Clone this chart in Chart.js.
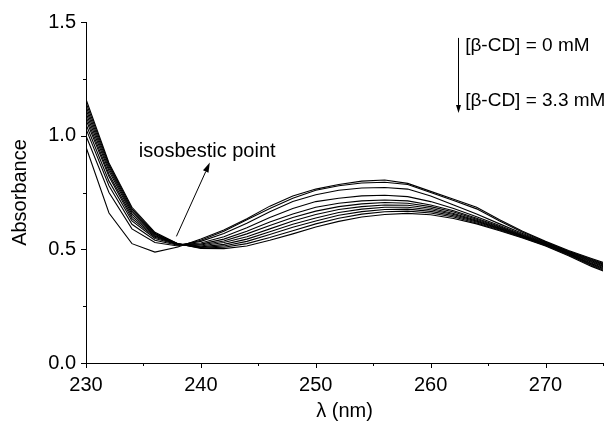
<!DOCTYPE html>
<html>
<head>
<meta charset="utf-8">
<script src="https://cdn.jsdelivr.net/npm/chart.js@4.4.1/dist/chart.umd.min.js"></script>
<style>
  html, body { margin: 0; padding: 0; background: #fff; }
  #wrap { width: 613px; height: 427px; position: relative; }
</style>
</head>
<body>
<div id="wrap"><canvas id="c" width="613" height="427"></canvas></div>
<script>
// Wavelengths (nm)
const wavelengths = [230,232,234,236,238,240,242,244,246,248,250,252,254,256,258,260,262,264,266,268,270,272,274,276];

// Absorbance spectra, [β-CD] = 0 mM ... 3.3 mM
const curve01 = [0.95,0.66,0.525,0.488,0.51,0.545,0.585,0.635,0.69,0.735,0.765,0.785,0.80,0.805,0.79,0.755,0.72,0.685,0.63,0.58,0.535,0.495,0.46,0.425];
const curve02 = [1.00,0.75,0.59,0.53,0.515,0.54,0.58,0.63,0.68,0.725,0.76,0.78,0.792,0.795,0.785,0.75,0.715,0.678,0.625,0.575,0.532,0.492,0.456,0.421];
const curve03 = [1.03,0.78,0.61,0.54,0.518,0.535,0.57,0.615,0.665,0.71,0.74,0.76,0.77,0.772,0.765,0.735,0.695,0.655,0.612,0.57,0.53,0.49,0.453,0.417];
const curve04 = [1.05,0.80,0.625,0.548,0.52,0.528,0.555,0.595,0.64,0.68,0.71,0.725,0.735,0.738,0.732,0.71,0.68,0.643,0.605,0.565,0.528,0.488,0.45,0.413];
const curve05 = [1.07,0.82,0.635,0.553,0.521,0.523,0.545,0.58,0.62,0.655,0.685,0.703,0.713,0.717,0.713,0.695,0.67,0.637,0.60,0.562,0.526,0.486,0.446,0.409];
const curve06 = [1.085,0.83,0.645,0.557,0.522,0.519,0.537,0.568,0.605,0.64,0.668,0.688,0.70,0.706,0.703,0.688,0.664,0.632,0.597,0.56,0.524,0.484,0.443,0.405];
const curve07 = [1.10,0.845,0.655,0.561,0.523,0.515,0.53,0.555,0.59,0.625,0.653,0.675,0.688,0.695,0.694,0.681,0.658,0.628,0.594,0.558,0.522,0.482,0.439,0.401];
const curve08 = [1.115,0.855,0.663,0.565,0.523,0.511,0.522,0.545,0.577,0.61,0.638,0.662,0.677,0.685,0.685,0.674,0.653,0.624,0.591,0.556,0.521,0.48,0.436,0.397];
const curve09 = [1.13,0.865,0.67,0.568,0.524,0.508,0.515,0.535,0.565,0.597,0.625,0.65,0.666,0.675,0.677,0.667,0.648,0.62,0.588,0.554,0.519,0.478,0.432,0.393];
const curve10 = [1.145,0.873,0.678,0.571,0.524,0.506,0.509,0.525,0.552,0.582,0.612,0.637,0.655,0.665,0.668,0.66,0.642,0.616,0.585,0.552,0.517,0.475,0.429,0.389];
const curve11 = [1.16,0.88,0.685,0.575,0.525,0.504,0.503,0.515,0.54,0.568,0.598,0.623,0.642,0.653,0.658,0.652,0.636,0.612,0.582,0.55,0.515,0.472,0.425,0.385];

const allCurves = [curve01,curve02,curve03,curve04,curve05,curve06,curve07,curve08,curve09,curve10,curve11];

// Axis ranges / tick labels
const xMin = 230, xMax = 275, xStep = 5, xLabelEvery = 10;
const yMin = 0, yMax = 1.5, yStep = 0.25, yLabelEvery = 0.5;

// Annotation texts and anchor positions (data units)
const isoText = "isosbestic point";
const isoTextPos = [234.6, 0.905];
const isoArrow = [[237.87, 0.557], [240.78, 0.882]];
const legendTop = "[β-CD] = 0 mM";
const legendBottom = "[β-CD] = 3.3 mM";
const legendArrow = [[262.4, 1.43], [262.4, 1.10]];
const legendTopPos = [263.0, 1.395];
const legendBottomPos = [263.0, 1.155];

const FONT = "'Liberation Sans', Arial, sans-serif";

const datasets = allCurves.map(arr => ({
  data: arr.map((v, i) => ({ x: wavelengths[i], y: v })),
  borderColor: '#000',
  borderWidth: 1.1,
  pointRadius: 0,
  tension: 0,
  fill: false
}));

function arrow(ctx, x1, y1, x2, y2, headLen, headHalf) {
  const ang = Math.atan2(y2 - y1, x2 - x1);
  const bx = x2 - headLen * Math.cos(ang), by = y2 - headLen * Math.sin(ang);
  ctx.beginPath();
  ctx.moveTo(x1, y1);
  ctx.lineTo(bx, by);
  ctx.stroke();
  ctx.beginPath();
  ctx.moveTo(x2, y2);
  ctx.lineTo(bx + headHalf * Math.sin(ang), by - headHalf * Math.cos(ang));
  ctx.lineTo(bx - headHalf * Math.sin(ang), by + headHalf * Math.cos(ang));
  ctx.closePath();
  ctx.fill();
}

const decor = {
  id: 'decor',
  afterDraw(chart) {
    const ctx = chart.ctx;
    const xs = chart.scales.x, ys = chart.scales.y;
    const ca = chart.chartArea;
    ctx.save();
    ctx.strokeStyle = '#000';
    ctx.fillStyle = '#000';
    ctx.lineWidth = 1;
    // ticks
    xs.ticks.forEach(t => {
      const px = Math.round(xs.getPixelForValue(t.value)) + 0.5;
      const len = (Math.abs(t.value % xLabelEvery) < 1e-6) ? 5 : 3;
      ctx.beginPath(); ctx.moveTo(px, ca.bottom); ctx.lineTo(px, ca.bottom + len); ctx.stroke();
    });
    ys.ticks.forEach(t => {
      const py = Math.round(ys.getPixelForValue(t.value)) + 0.5;
      const r = t.value / yLabelEvery;
      const len = (Math.abs(r - Math.round(r)) < 1e-6) ? 5 : 3;
      ctx.beginPath(); ctx.moveTo(ca.left, py); ctx.lineTo(ca.left - len, py); ctx.stroke();
    });
    // isosbestic annotation
    ctx.font = '20px ' + FONT;
    ctx.textBaseline = 'alphabetic';
    ctx.textAlign = 'left';
    ctx.fillText(isoText, xs.getPixelForValue(isoTextPos[0]), ys.getPixelForValue(isoTextPos[1]));
    arrow(ctx, xs.getPixelForValue(isoArrow[0][0]), ys.getPixelForValue(isoArrow[0][1]),
               xs.getPixelForValue(isoArrow[1][0]), ys.getPixelForValue(isoArrow[1][1]), 10, 3);
    // legend arrow and texts
    ctx.font = '19px ' + FONT;
    ctx.textBaseline = 'middle';
    ctx.fillText(legendTop, xs.getPixelForValue(legendTopPos[0]), ys.getPixelForValue(legendTopPos[1]));
    ctx.fillText(legendBottom, xs.getPixelForValue(legendBottomPos[0]), ys.getPixelForValue(legendBottomPos[1]));
    const lx = Math.round(xs.getPixelForValue(legendArrow[0][0])) + 0.5;
    arrow(ctx, lx, ys.getPixelForValue(legendArrow[0][1]), lx, ys.getPixelForValue(legendArrow[1][1]), 8, 2.5);
    ctx.restore();
  }
};

new Chart(document.getElementById('c'), {
  type: 'line',
  data: { datasets },
  plugins: [decor],
  options: {
    responsive: false,
    animation: false,
    events: [],
    layout: { padding: { top: 21, right: 1, left: 0, bottom: 0 } },
    plugins: { legend: { display: false }, tooltip: { enabled: false } },
    scales: {
      x: {
        type: 'linear',
        min: xMin, max: xMax,
        afterFit(s) { s.height = 64; },
        border: { display: true, color: '#000', width: 1 },
        grid: { drawOnChartArea: false, drawTicks: false },
        ticks: {
          stepSize: xStep,
          autoSkip: false,
          maxRotation: 0,
          padding: 10,
          color: '#000',
          font: { family: FONT, size: 20 },
          callback: v => (Math.abs(v % xLabelEvery) < 1e-6 ? String(v) : '')
        },
        title: {
          display: true, text: 'λ (nm)', color: '#000',
          font: { family: FONT, size: 20 },
          padding: { top: 0, bottom: 4 }
        }
      },
      y: {
        type: 'linear',
        min: yMin, max: yMax,
        afterFit(s) { s.width = 86; },
        border: { display: true, color: '#000', width: 1 },
        grid: { drawOnChartArea: false, drawTicks: false },
        ticks: {
          stepSize: yStep,
          autoSkip: false,
          padding: 10,
          color: '#000',
          font: { family: FONT, size: 20 },
          callback: v => { const r = v / yLabelEvery; return Math.abs(r - Math.round(r)) < 1e-6 ? v.toFixed(1) : ''; }
        },
        title: {
          display: true, text: 'Absorbance', color: '#000',
          font: { family: FONT, size: 20 },
          padding: { top: 8, bottom: 0 }
        }
      }
    }
  }
});
</script>
</body>
</html>
